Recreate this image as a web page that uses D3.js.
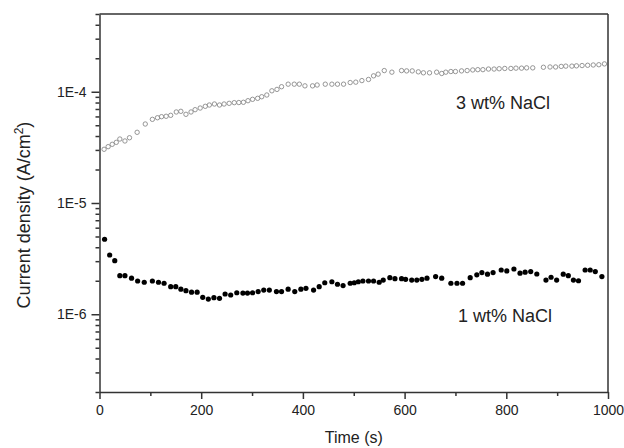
<!DOCTYPE html>
<html lang="en">
<head>
<meta charset="UTF-8">
<title>Current density vs time</title>
<script src="https://cdnjs.cloudflare.com/ajax/libs/d3/7.8.5/d3.min.js"></script>
<style>
  body { margin: 0; background: #fff; }
  text { font-family: Arial, "Liberation Sans", sans-serif; fill: #222; }
</style>
</head>
<body>
<svg width="624" height="448" id="canvas"></svg>
<script>
// 1 wt% NaCl (filled dots)
var timeLow = [10,20,30,40,50,63,75,88,104,116,127,140,150,160,170,181,192,203,214,225,236,247,258,270,282,291,301,312,323,334,348,358,371,384,396,406,421,432,443,457,468,479,493,501,509,518,529,539,550,558,571,581,594,602,614,624,634,644,661,673,691,703,714,729,742,752,763,774,790,801,815,827,837,848,860,878,888,899,912,922,932,942,955,965,975,988];
var currentLow = [4.72,3.41,3.03,2.22,2.22,2.11,1.99,1.94,1.99,1.94,1.90,1.77,1.77,1.68,1.63,1.58,1.58,1.42,1.37,1.41,1.39,1.52,1.49,1.56,1.55,1.55,1.56,1.60,1.65,1.65,1.60,1.60,1.68,1.60,1.68,1.71,1.65,1.77,1.92,1.96,1.86,1.81,1.90,1.92,1.96,1.99,1.99,1.99,1.94,2.03,2.13,2.09,2.09,2.06,2.03,2.03,2.06,2.11,2.18,2.11,1.90,1.90,1.90,2.13,2.26,2.37,2.29,2.37,2.50,2.45,2.55,2.34,2.39,2.42,2.30,2.03,2.15,2.03,2.29,2.22,2.03,2.00,2.50,2.50,2.42,2.18].map(v => v * 1e-6);

// 3 wt% NaCl (open circles)
var timeHigh = [9,17,25,33,40,50,59,74,90,104,114,122,131,140,151,160,170,180,188,198,208,216,226,236,245,255,265,274,283,292,301,311,319,329,339,349,358,371,383,393,404,419,428,444,457,468,480,493,504,516,529,539,548,560,575,594,604,615,627,637,649,663,673,681,691,700,712,723,734,744,754,765,776,786,797,809,819,830,840,852,873,886,897,908,917,929,938,949,960,971,982,993];
var currentHigh = [0.304,0.321,0.337,0.351,0.376,0.361,0.386,0.432,0.513,0.565,0.584,0.597,0.602,0.614,0.658,0.667,0.627,0.658,0.690,0.714,0.740,0.760,0.776,0.760,0.776,0.787,0.798,0.800,0.804,0.831,0.855,0.873,0.902,0.935,1.02,1.05,1.11,1.17,1.17,1.17,1.13,1.13,1.15,1.17,1.17,1.17,1.17,1.21,1.22,1.26,1.29,1.39,1.44,1.55,1.50,1.55,1.54,1.54,1.51,1.48,1.48,1.50,1.46,1.50,1.52,1.52,1.54,1.55,1.57,1.58,1.58,1.60,1.60,1.61,1.62,1.62,1.63,1.63,1.64,1.64,1.66,1.67,1.67,1.69,1.70,1.70,1.71,1.72,1.73,1.74,1.75,1.78].map(v => v * 1e-4);

var xMajor = [0, 200, 400, 600, 800, 1000];
var xMinor = [100, 300, 500, 700, 900];
var yMajor = [1e-6, 1e-5, 1e-4];
var yLabels = ["1E-6", "1E-5", "1E-4"];

var svg = d3.select("#canvas");
var plotL = 99.5, plotR = 608, plotT = 14, plotB = 392;

var x = d3.scaleLinear().domain([0, 1000]).range([plotL, plotR]);
var y = d3.scaleLog().domain([2e-7, 5e-4]).range([plotB, plotT]);

// minor ticks on the log axis: 2..9 of every decade inside the domain
var yMinor = [];
[-7, -6, -5, -4].forEach(function(e) {
    for (var m = 2; m <= 9; m++) {
        var v = m * Math.pow(10, e);
        if (v >= 2e-7 && v <= 5e-4 * 1.0001) yMinor.push(v);
    }
});

function styleAxis(g) {
    g.selectAll("path, line").attr("stroke", "#333").attr("stroke-width", 1.5);
    g.selectAll("text").attr("font-size", 14).attr("fill", "#222")
        .attr("font-family", "Arial, 'Liberation Sans', sans-serif");
}

// frame top and right
svg.append("line").attr("x1", plotL).attr("x2", plotR).attr("y1", plotT).attr("y2", plotT)
    .attr("stroke", "#333").attr("stroke-width", 1.5);
svg.append("line").attr("x1", plotR).attr("x2", plotR).attr("y1", plotT).attr("y2", plotB)
    .attr("stroke", "#333").attr("stroke-width", 1.5);

svg.append("g").attr("transform", "translate(0," + plotB + ")")
    .call(d3.axisBottom(x).tickValues(xMinor).tickSize(4).tickSizeOuter(0).tickFormat(""))
    .call(g => g.select(".domain").remove())
    .call(styleAxis);
svg.append("g").attr("transform", "translate(0," + plotB + ")")
    .call(d3.axisBottom(x).tickValues(xMajor).tickSize(7).tickSizeOuter(0).tickPadding(6)
        .tickFormat(d3.format("d")))
    .call(styleAxis);

svg.append("g").attr("transform", "translate(" + plotL + ",0)")
    .call(d3.axisLeft(y).tickValues(yMinor).tickSize(4).tickSizeOuter(0).tickFormat(""))
    .call(g => g.select(".domain").remove())
    .call(styleAxis);
svg.append("g").attr("transform", "translate(" + plotL + ",0)")
    .call(d3.axisLeft(y).tickValues(yMajor).tickSize(8).tickSizeOuter(0).tickPadding(5)
        .tickFormat((d, i) => yLabels[i]))
    .call(styleAxis);

// series
svg.append("g").selectAll("circle")
    .data(d3.zip(timeHigh, currentHigh))
    .join("circle")
    .attr("cx", d => x(d[0]))
    .attr("cy", d => y(d[1]))
    .attr("r", 2.2)
    .attr("fill", "none")
    .attr("stroke", "#8a8a8a")
    .attr("stroke-width", 0.9);

svg.append("g").selectAll("circle")
    .data(d3.zip(timeLow, currentLow))
    .join("circle")
    .attr("cx", d => x(d[0]))
    .attr("cy", d => y(d[1]))
    .attr("r", 2.6)
    .attr("fill", "#000");

// labels
svg.append("text").attr("x", 456).attr("y", 109).attr("font-size", 18).text("3 wt% NaCl");
svg.append("text").attr("x", 458).attr("y", 322).attr("font-size", 18).text("1 wt% NaCl");

svg.append("text").attr("x", (plotL + plotR) / 2).attr("y", 443)
    .attr("text-anchor", "middle").attr("font-size", 16).text("Time (s)");

var yt = svg.append("text")
    .attr("transform", "translate(30," + 215 + ") rotate(-90)")
    .attr("text-anchor", "middle").attr("font-size", 18);
yt.append("tspan").text("Current density (A/cm");
yt.append("tspan").attr("dy", -7).attr("font-size", 12).text("2");
yt.append("tspan").attr("dy", 7).text(")");
</script>
</body>
</html>
